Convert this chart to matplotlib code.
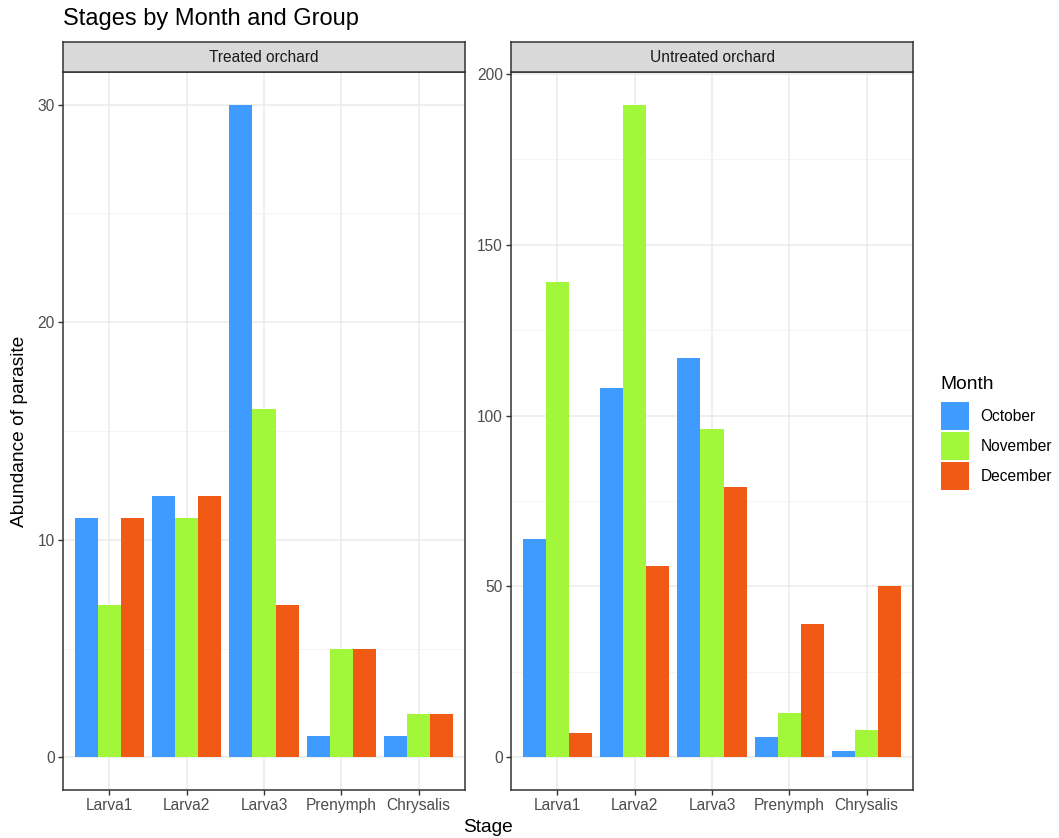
import numpy as np
import matplotlib.pyplot as plt
from matplotlib.patches import Patch

plt.rcParams['font.family'] = ['Liberation Sans', 'DejaVu Sans']

stages = ['Larva1', 'Larva2', 'Larva3', 'Prenymph', 'Chrysalis']
months = ['October', 'November', 'December']
colors = ['#3F9BFF', '#A2F73A', '#F05A14']

treated = {
    'October':  [11, 12, 30, 1, 1],
    'November': [7, 11, 16, 5, 2],
    'December': [11, 12, 7, 5, 2],
}
untreated = {
    'October':  [64, 108, 117, 6, 2],
    'November': [139, 191, 96, 13, 8],
    'December': [7, 56, 79, 39, 50],
}
groups = [('Treated orchard', treated, [0, 10, 20, 30], [5, 15, 25]),
          ('Untreated orchard', untreated, [0, 50, 100, 150, 200], [25, 75, 125, 175])]

W, H = 1059, 838
fig = plt.figure(figsize=(W / 100, H / 100), dpi=100)

def fx(px):
    return px / W

def fy(py):
    return 1 - py / H

panel_left = [63, 511]
panel_w = 402
top, bottom, strip_top = 72, 790, 42

x = np.arange(1, len(stages) + 1)
bw = 0.3

for (name, data, major, minor), left in zip(groups, panel_left):
    ax = fig.add_axes([fx(left), fy(bottom), fx(panel_w), (bottom - top) / H])
    for i, m in enumerate(months):
        ax.bar(x + (i - 1) * bw, data[m], width=bw, color=colors[i], zorder=3)
    ymax = max(max(v) for v in data.values())
    pad = ymax * 0.05
    ax.set_ylim(-pad, ymax + pad)
    ax.set_xlim(0.4, 5.6)
    ax.set_xticks(x)
    ax.set_xticklabels(stages)
    ax.set_yticks(major)
    ax.set_yticks(minor, minor=True)
    ax.grid(True, which='major', color='#EBEBEB', lw=1.1, zorder=0)
    ax.grid(True, which='minor', axis='y', color='#F3F3F3', lw=0.6, zorder=0)
    ax.tick_params(axis='both', which='major', length=3.5, width=1, color='#333333',
                   labelsize=11.2, labelcolor='#4D4D4D', pad=2.5)
    ax.tick_params(which='minor', length=0)
    for s in ax.spines.values():
        s.set_color('#333333')
        s.set_linewidth(1.1)
    ax.set_facecolor('white')

    # facet strip
    sax = fig.add_axes([fx(left), fy(top), fx(panel_w), (top - strip_top) / H])
    sax.set_facecolor('#D9D9D9')
    sax.set_xticks([])
    sax.set_yticks([])
    for s in sax.spines.values():
        s.set_color('#333333')
        s.set_linewidth(1.1)
    sax.text(0.5, 0.5, name, ha='center', va='center', fontsize=11.2,
             color='#1A1A1A', transform=sax.transAxes)

fig.text(fx(63), fy(19), 'Stages by Month and Group', fontsize=17,
         ha='left', va='center', color='black')
fig.text(fx(488), fy(827), 'Stage', fontsize=13.8, ha='center', va='center')
fig.text(fx(20), fy(431), 'Abundance of parasite', fontsize=13.8,
         ha='center', va='center', rotation=90)

handles = [Patch(facecolor=c, edgecolor='none', label=m) for m, c in zip(months, colors)]
leg = fig.legend(handles=handles, title='Month', loc='upper left',
                 bbox_to_anchor=(fx(936), fy(371)), frameon=False,
                 fontsize=11.2, title_fontsize=13.8, handlelength=1.8,
                 handleheight=2.39, handletextpad=0.75, labelspacing=0.125,
                 borderaxespad=0, borderpad=0.3)
leg._legend_box.align = 'left'
leg._legend_box.sep = 7

fig.savefig('out.png', dpi=100, facecolor='white')
